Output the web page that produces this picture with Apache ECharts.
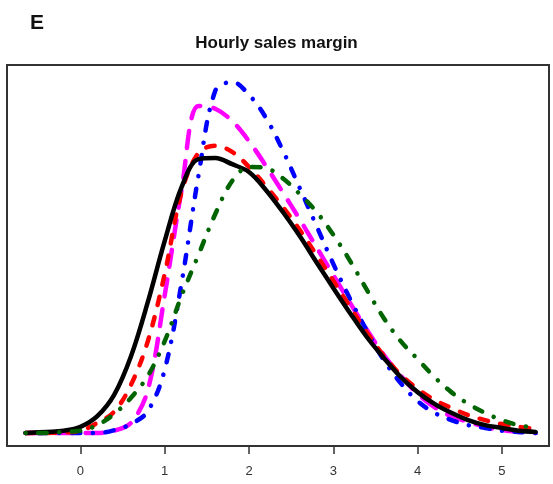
<!DOCTYPE html>
<html>
<head>
<meta charset="utf-8">
<title>Hourly sales margin</title>
<script src="https://cdn.jsdelivr.net/npm/echarts@6/dist/echarts.min.js"></script>
<style>
  html, body { margin: 0; padding: 0; background: #fff; }
  #chart { width: 553px; height: 484px; }
</style>
</head>
<body>
<div id="chart"></div>
<script>
// Grid of margin values (x) at which each density curve is sampled
const xs = [-0.65, -0.4, -0.2, 0, 0.2, 0.4, 0.6, 0.8, 1.0, 1.2, 1.4, 1.6, 1.8, 2.0, 2.2, 2.4,
            2.6, 2.8, 3.0, 3.2, 3.4, 3.6, 3.8, 4.0, 4.2, 4.4, 4.6, 4.8, 5.0, 5.2, 5.4];

// Estimated densities for each group
const blackDensity = [0, 0.002, 0.004, 0.011, 0.030, 0.068, 0.137, 0.234, 0.343, 0.439, 0.489, 0.491,
                      0.480, 0.466, 0.434, 0.395, 0.352, 0.305, 0.259, 0.214, 0.171, 0.134, 0.100,
                      0.073, 0.052, 0.036, 0.023, 0.014, 0.009, 0.004, 0.002];
const redDensity = [0, 0, 0.001, 0.004, 0.018, 0.038, 0.086, 0.164, 0.284, 0.430, 0.500, 0.513,
                    0.502, 0.475, 0.441, 0.404, 0.363, 0.318, 0.272, 0.225, 0.179, 0.138, 0.104,
                    0.079, 0.059, 0.045, 0.032, 0.023, 0.016, 0.011, 0.007];
const magentaDensity = [0, 0, 0, 0, 0, 0.004, 0.018, 0.077, 0.246, 0.434, 0.584, 0.579,
                        0.557, 0.521, 0.477, 0.430, 0.382, 0.332, 0.282, 0.232, 0.184, 0.139, 0.102,
                        0.070, 0.046, 0.030, 0.020, 0.011, 0.005, 0.002, 0];
const blueDensity = [0, 0, 0, 0, 0, 0.005, 0.016, 0.039, 0.113, 0.268, 0.459, 0.611,
                     0.627, 0.604, 0.563, 0.505, 0.438, 0.370, 0.302, 0.239, 0.182, 0.130, 0.089,
                     0.057, 0.036, 0.023, 0.014, 0.009, 0.004, 0.002, 0];
const greenDensity = [0, 0, 0.002, 0.004, 0.014, 0.034, 0.063, 0.102, 0.164, 0.245, 0.318, 0.391,
                      0.450, 0.475, 0.473, 0.455, 0.427, 0.395, 0.354, 0.307, 0.255, 0.205, 0.164,
                      0.132, 0.100, 0.073, 0.052, 0.036, 0.023, 0.014, 0.009];

// Tick positions and labels on the x axis
const tickValues = [0, 1, 2, 3, 4, 5];
const tickLabels = ['0', '1', '2', '3', '4', '5'];

const pairs = ys => xs.map((x, i) => [x, ys[i]]);

function curve(name, ys, color, dash, width) {
  return {
    name: name,
    type: 'line',
    data: pairs(ys),
    smooth: 0.35,
    showSymbol: false,
    symbol: 'none',
    animation: false,
    lineStyle: {
      color: color,
      width: width,
      type: dash,
      cap: 'round',
      join: 'round'
    }
  };
}

const chart = echarts.init(document.getElementById('chart'), null, { renderer: 'canvas' });

chart.setOption({
  animation: false,
  backgroundColor: '#ffffff',
  title: [
    {
      text: 'E',
      left: 25, top: 8,
      textStyle: { fontFamily: 'Liberation Sans, Arial, sans-serif', fontWeight: 'bold', fontSize: 21, color: '#111' }
    },
    {
      text: 'Hourly sales margin',
      left: 'center', top: 30,
      textStyle: { fontFamily: 'Liberation Sans, Arial, sans-serif', fontWeight: 'bold', fontSize: 17, color: '#111' }
    }
  ],
  grid: {
    left: 7, right: 4, top: 65, bottom: 38,
    show: true,
    borderColor: '#333',
    borderWidth: 2,
    backgroundColor: '#fff'
  },
  xAxis: {
    type: 'value',
    min: -0.871,
    max: 5.559,
    axisLine: { show: false, onZero: false },
    splitLine: { show: false },
    axisTick: {
      show: true,
      inside: false,
      length: 8,
      customValues: tickValues,
      lineStyle: { color: '#333', width: 1.5 }
    },
    axisLabel: {
      show: true,
      margin: 19,
      customValues: tickValues,
      formatter: v => tickLabels[tickValues.indexOf(v)] ?? '',
      fontFamily: 'Liberation Sans, Arial, sans-serif',
      fontSize: 13,
      color: '#333'
    }
  },
  yAxis: {
    type: 'value',
    show: false,
    min: -0.0232,
    max: 0.6571,
    splitLine: { show: false }
  },
  series: [
    curve('Group M', magentaDensity, '#ff00ff', [17, 13], 4.5),
    curve('Group B', blueDensity, '#0000ff', [0.1, 12.5, 8.5, 12.5], 4.5),
    curve('Group R', redDensity, '#ff0000', [8.5, 12.5], 4.5),
    curve('Group K', blackDensity, '#000000', 'solid', 4.5),
    curve('Group G', greenDensity, '#006400', [0.1, 12.5, 8.5, 12.5], 4.5)
  ]
});
</script>
</body>
</html>
